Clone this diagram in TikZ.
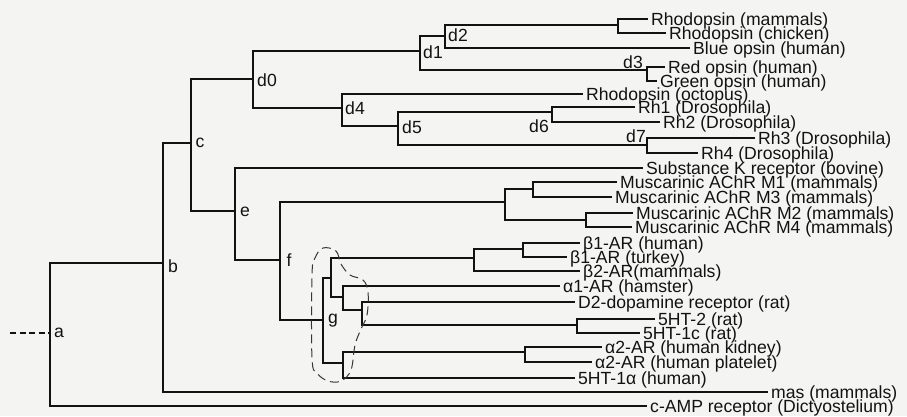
\documentclass[tikz,border=0pt]{standalone}
\usepackage{fontspec}
\setmainfont{Liberation Sans}
\definecolor{paper}{RGB}{244,245,243}
\definecolor{ink}{RGB}{18,18,18}
\tikzset{
  br/.style={draw=ink, line width=2.9pt},
  leaf/.style={anchor=west, inner xsep=3pt, inner ysep=0pt, text height=12pt, text depth=0pt,
    font=\fontsize{17.6}{18}\selectfont, text=ink},
  ilbl/.style={inner sep=0pt, font=\fontsize{17.6}{18}\selectfont, text=ink},
  hull/.style={draw=ink!85, line width=1pt, dash pattern=on 9pt off 5pt},
  rootdash/.style={draw=ink, line width=2.9pt, dash pattern=on 6pt off 3.5pt}
}
\begin{document}
\begin{tikzpicture}[x=1pt,y=-1pt]
\fill[paper] (0,0) rectangle (907,416);
\useasboundingbox (0,0) rectangle (907,416);

% internal nodes (vertical x, entry y)
\coordinate (A) at (50,333);
\coordinate (B) at (163,263);
\coordinate (C) at (191,143);
\coordinate (D0) at (253,79);
\coordinate (D1) at (420,51);
\coordinate (D2) at (445,36);
\coordinate (F1) at (618,25);
\coordinate (D3) at (647,70);
\coordinate (D4) at (342,108);
\coordinate (D5) at (398,126);
\coordinate (D6) at (552,112);
\coordinate (D7) at (647,145);
\coordinate (E) at (235,211);
\coordinate (F) at (280,260);
\coordinate (MUS) at (505,202);
\coordinate (M13) at (533,189);
\coordinate (M24) at (586,220);
\coordinate (G) at (323,320);
\coordinate (P) at (331,278);
\coordinate (BETA) at (474,258);
\coordinate (B1) at (523,249);
\coordinate (R) at (343,297);
\coordinate (S) at (362,310);
\coordinate (HT) at (577,325);
\coordinate (Q2) at (343,363);
\coordinate (A2) at (525,352);
\coordinate (root) at (10,333);

% leaves
\node[leaf] (rhm) at (648,19) {Rhodopsin (mammals)};
\node[leaf] (rhc) at (666,33) {Rhodopsin (chicken)};
\node[leaf] (blue) at (690,48) {Blue opsin (human)};
\node[leaf] (red) at (665,67) {Red opsin (human)};
\node[leaf] (green) at (657,81) {Green opsin (human)};
\node[leaf] (oct) at (583,94) {Rhodopsin (octopus)};
\node[leaf] (rh1) at (635,107) {Rh1 (Drosophila)};
\node[leaf] (rh2) at (660,122) {Rh2 (Drosophila)};
\node[leaf] (rh3) at (755,138) {Rh3 (Drosophila)};
\node[leaf] (rh4) at (698,153) {Rh4 (Drosophila)};
\node[leaf] (subk) at (643,168) {Substance K receptor (bovine)};
\node[leaf] (m1) at (617,182) {Muscarinic AChR M1 (mammals)};
\node[leaf] (m3) at (612,197) {Muscarinic AChR M3 (mammals)};
\node[leaf] (m2) at (633,213) {Muscarinic AChR M2 (mammals)};
\node[leaf] (m4) at (632,227) {Muscarinic AChR M4 (mammals)};
\node[leaf] (b1h) at (580,243) {β1-AR (human)};
\node[leaf] (b1t) at (567,257) {β1-AR (turkey)};
\node[leaf] (b2) at (580,271) {β2-AR(mammals)};
\node[leaf] (a1) at (560,286) {α1-AR (hamster)};
\node[leaf] (d2r) at (575,302) {D2-dopamine receptor (rat)};
\node[leaf] (ht2) at (655,319) {5HT-2 (rat)};
\node[leaf] (ht1c) at (640,333) {5HT-1c (rat)};
\node[leaf] (a2k) at (602,347) {α2-AR (human kidney)};
\node[leaf] (a2p) at (592,362) {α2-AR (human platelet)};
\node[leaf] (ht1a) at (575,378) {5HT-1α (human)};
\node[leaf] (mas) at (768,392) {mas (mammals)};
\node[leaf] (camp) at (647,406) {c-AMP receptor (Dictyostelium)};

% internal labels
\node[ilbl] (la) at (59,333) {a};
\node[ilbl] (lb) at (173,266) {b};
\node[ilbl] (lc) at (200,143) {c};
\node[ilbl] (ld0) at (267,80) {d0};
\node[ilbl] (ld1) at (433,52) {d1};
\node[ilbl] (ld2) at (458,35) {d2};
\node[ilbl] (ld3) at (633,62) {d3};
\node[ilbl] (ld4) at (355,108) {d4};
\node[ilbl] (ld5) at (412,127) {d5};
\node[ilbl] (ld6) at (539,126) {d6};
\node[ilbl] (ld7) at (636,136) {d7};
\node[ilbl] (le) at (245,212) {e};
\node[ilbl] (lf) at (289,260) {f};
\node[ilbl] (lg) at (333,321) {g};

% connectors
\draw[rootdash] (root) -- (A);
\draw[br] (A) |- (B);
\draw[br] (A) |- (camp.west);
\draw[br] (B) |- (C);
\draw[br] (B) |- (mas.west);
\draw[br] (C) |- (D0);
\draw[br] (C) |- (E);
\draw[br] (D0) |- (D1);
\draw[br] (D0) |- (D4);
\draw[br] (D1) |- (D2);
\draw[br] (D1) |- (D3);
\draw[br] (D2) |- (F1);
\draw[br] (D2) |- (blue.west);
\draw[br] (F1) |- (rhm.west);
\draw[br] (F1) |- (rhc.west);
\draw[br] (D3) |- (red.west);
\draw[br] (D3) |- (green.west);
\draw[br] (D4) |- (oct.west);
\draw[br] (D4) |- (D5);
\draw[br] (D5) |- (D6);
\draw[br] (D5) |- (D7);
\draw[br] (D6) |- (rh1.west);
\draw[br] (D6) |- (rh2.west);
\draw[br] (D7) |- (rh3.west);
\draw[br] (D7) |- (rh4.west);
\draw[br] (E) |- (subk.west);
\draw[br] (E) |- (F);
\draw[br] (F) |- (MUS);
\draw[br] (F) |- (G);
\draw[br] (MUS) |- (M13);
\draw[br] (MUS) |- (M24);
\draw[br] (M13) |- (m1.west);
\draw[br] (M13) |- (m3.west);
\draw[br] (M24) |- (m2.west);
\draw[br] (M24) |- (m4.west);
\draw[br] (G) |- (P);
\draw[br] (G) |- (Q2);
\draw[br] (P) |- (BETA);
\draw[br] (P) |- (R);
\draw[br] (BETA) |- (B1);
\draw[br] (BETA) |- (b2.west);
\draw[br] (B1) |- (b1h.west);
\draw[br] (B1) |- (b1t.west);
\draw[br] (R) |- (a1.west);
\draw[br] (R) |- (S);
\draw[br] (S) |- (d2r.west);
\draw[br] (S) |- (HT);
\draw[br] (HT) |- (ht2.west);
\draw[br] (HT) |- (ht1c.west);
\draw[br] (Q2) |- (A2);
\draw[br] (Q2) |- (ht1a.west);
\draw[br] (A2) |- (a2k.west);
\draw[br] (A2) |- (a2p.west);

% dashed outline round the g group
\draw[hull] plot[smooth cycle, tension=0.6] coordinates {(323,248) (336,251) (341,264) (350,275) (363,280) (368,292) (367,315) (361,329) (355,345) (351,370) (341,381) (328,381) (317,373) (312,358) (312,275) (315,258)};
\end{tikzpicture}
\end{document}
